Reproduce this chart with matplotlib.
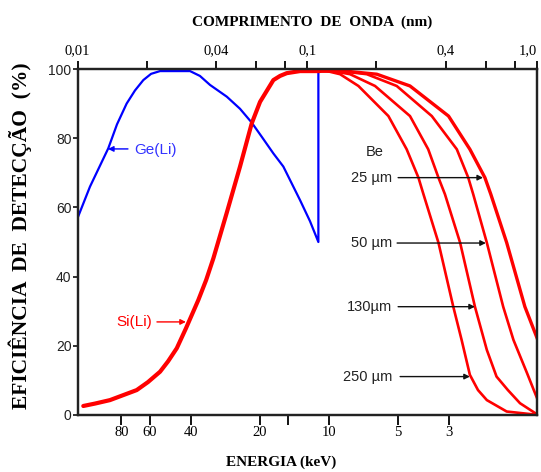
import matplotlib
matplotlib.use("Agg")
import matplotlib.pyplot as plt

# Ge(Li) detector efficiency (energy in keV, efficiency in %)
ge_energy = [124, 109.6, 91.2, 83.6, 75.9, 69.8, 64.2, 59.4, 54.3, 40.2, 36.4, 32.9,
             27.8, 24.35, 21.65, 19.53, 17.43, 15.77, 13.34, 12.07, 11.1, 11.1]
ge_eff = [57, 66, 77.1, 84, 90, 93.8, 96.8, 98.6, 99.4, 99.4, 98, 95.4,
          92, 88.5, 84.5, 80.3, 75.6, 71.8, 62.1, 56, 50, 100]

# Si(Li) detector, common part
si_energy = [117.2, 104.2, 89.7, 68.6, 61.3, 54.3, 50.1, 45.9, 41.9, 37.0, 34.2, 31.8,
             27.8, 24.35, 21.65, 19.92, 17.43, 16.3, 15.24, 13.34, 10.95]
si_eff = [2.6, 3.3, 4.3, 7.2, 9.5, 12.5, 15.5, 19.3, 25.0, 33.2, 39.0, 45.3,
          58.5, 71.8, 84.3, 90.5, 96.8, 98.0, 98.8, 99.4, 99.4]

# Si(Li) low energy branches for the Be window thicknesses
be25_energy = [10.95, 8.50, 6.18, 4.43, 3.01, 2.43, 2.09, 1.97, 1.68, 1.40, 1.33, 1.24]
be25_eff = [99.4, 99.4, 98.5, 95.1, 86.4, 76.8, 68.6, 63.8, 49.8, 31.3, 27.5, 22.3]

be50_energy = [10.95, 8.93, 6.83, 5.06, 3.56, 2.77, 2.47, 2.35, 2.05, 1.74, 1.57, 1.37, 1.24]
be50_eff = [99.4, 99.4, 98.5, 95.1, 86.4, 76.8, 68.6, 63.8, 49.8, 31.3, 21.7, 12.1, 4.9]

be130_energy = [10.95, 9.58, 8.08, 6.29, 4.43, 3.69, 3.33, 3.12, 2.68, 2.31, 2.05, 1.86,
                1.66, 1.47, 1.26, 1.24]
be130_eff = [99.4, 99.4, 98.5, 95.1, 86.4, 76.8, 68.6, 63.8, 49.8, 31.3, 18.8, 11.1,
             7.2, 3.4, 0.5, 0.3]

be250_energy = [10.95, 10.18, 8.93, 7.43, 5.50, 4.58, 4.07, 3.87, 3.33, 2.87, 2.64, 2.43,
                2.24, 2.05, 1.68, 1.26, 1.24]
be250_eff = [99.4, 99.4, 98.5, 95.1, 86.4, 76.8, 68.6, 63.8, 49.8, 31.3, 21.7, 11.6,
             7.2, 4.3, 1.0, 0.1, 0]

# arrows for the Be labels
be_labels = ["25 \u00b5m", "50 \u00b5m", "130\u00b5m", "250 \u00b5m"]
be_arrow_start = [4.99, 5.04, 4.99, 4.89]
be_arrow_end = [2.13, 2.07, 2.31, 2.43]
be_arrow_eff = [68.6, 49.7, 31.3, 11.1]

energy_ticks = [80, 60, 40, 20, 15, 10, 5, 3]
energy_labels = ["80", "60", "40", "20", "", "10", "5", "3"]
wave_ticks = [0.01, 0.02, 0.04, 0.06, 0.08, 0.1, 0.2, 0.4, 0.6, 0.8, 1.0]
wave_labels = ["0,01", "", "0,04", "", "", "0,1", "", "0,4", "", "", "1,0"]

RED = "#ff0000"
BLUE = "#0000ff"
SERIF = "Liberation Serif"
SANS = "Liberation Sans"

fig = plt.figure(figsize=(5.41, 4.72), dpi=100)
ax = fig.add_axes([0.1436, 0.1208, 0.849, 0.733])

# curves
ax.plot(ge_energy, ge_eff, color=BLUE, lw=1.6)
ax.plot(si_energy, si_eff, color=RED, lw=3.0, solid_capstyle="round")
ax.plot(be25_energy, be25_eff, color=RED, lw=2.4)
ax.plot(be50_energy, be50_eff, color=RED, lw=1.9)
ax.plot(be130_energy, be130_eff, color=RED, lw=1.9)
ax.plot(be250_energy, be250_eff, color=RED, lw=1.9)

ax.set_xscale("log")
ax.set_xlim(123.98, 1.2398)
ax.set_ylim(0, 100)

# annotations
arrow = dict(arrowstyle="-|>", lw=1.0, mutation_scale=8, shrinkA=0, shrinkB=0)
ax.annotate("", xy=(91.5, 76.9), xytext=(74.9, 76.9),
            arrowprops=dict(arrow, color=BLUE))
ax.text(70.5, 76.6, "Ge(Li)", color="#3333ff", fontsize=11, family=SANS,
        ha="left", va="center")
ax.annotate("", xy=(41.9, 26.9), xytext=(56.0, 26.9),
            arrowprops=dict(arrow, color=RED))
ax.text(58.9, 27.0, "Si(Li)", color=RED, fontsize=11, family=SANS,
        ha="right", va="center")

ax.text(6.29, 75.9, "Be", fontsize=10.5, family=SANS, color="#222222",
        ha="center", va="center")
for lab, x0, x1, yv in zip(be_labels, be_arrow_start, be_arrow_end, be_arrow_eff):
    ax.annotate("", xy=(x1, yv), xytext=(x0, yv),
                arrowprops=dict(arrow, color="#111111"))
    ax.text(5.3, yv, lab, fontsize=10.5, family=SANS, color="#222222",
            ha="right", va="center")

# bottom axis (energy)
ax.xaxis.set_minor_locator(matplotlib.ticker.NullLocator())
ax.set_xticks(energy_ticks)
ax.set_xticklabels(energy_labels, family=SERIF, fontsize=10.5)
ax.set_yticks([0, 20, 40, 60, 80, 100])
ax.set_yticklabels(["0", "20", "40", "60", "80", "100"], family=SANS, fontsize=10)
ax.tick_params(axis="x", direction="out", length=7.5, width=1.3, pad=0.5)
ax.tick_params(axis="y", direction="out", length=3.6, width=1.3, pad=0.8,
               colors="#222222")
for sp in ax.spines.values():
    sp.set_linewidth(1.6)
    sp.set_color("#222222")

# top axis (wavelength)
ax2 = ax.twiny()
ax2.set_xscale("log")
ax2.set_xlim(0.01, 1.0)
ax2.xaxis.set_minor_locator(matplotlib.ticker.NullLocator())
ax2.set_xticks(wave_ticks)
ax2.set_xticklabels(wave_labels, family=SERIF, fontsize=10.5)
ax2.get_xticklabels()[-1].set_horizontalalignment("right")
ax2.tick_params(axis="x", direction="out", length=5.5, width=1.3, pad=3)
for sp in ax2.spines.values():
    sp.set_linewidth(1.6)
    sp.set_color("#222222")

# axis titles
fig.text(0.577, 0.953, "COMPRIMENTO  DE  ONDA  (nm)", family=SERIF,
         fontweight="bold", fontsize=11, ha="center", va="center")
fig.text(0.52, 0.02, "ENERGIA (keV)", family=SERIF, fontweight="bold",
         fontsize=11, ha="center", va="center")
fig.text(0.037, 0.5, "EFICI\u00caNCIA  DE  DETEC\u00c7\u00c3O  (%)", family=SERIF,
         fontweight="bold", fontsize=15.5, rotation=90, ha="center", va="center")

fig.savefig("out.png", dpi=100)
